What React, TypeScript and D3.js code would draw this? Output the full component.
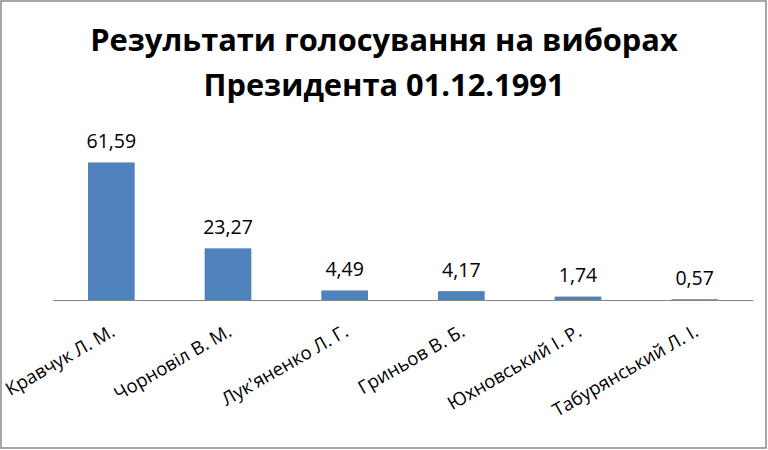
import React from "react";
import * as d3 from "d3";

const categories = [
  "Кравчук Л. М.",
  "Чорновіл В. М.",
  "Лук'яненко Л. Г.",
  "Гриньов В. Б.",
  "Юхновський І. Р.",
  "Табурянський Л. І.",
];
const values = [61.59, 23.27, 4.49, 4.17, 1.74, 0.57];
const valueLabels = ["61,59", "23,27", "4,49", "4,17", "1,74", "0,57"];
const titleLines = ["Результати голосування на виборах", "Президента 01.12.1991"];

const W = 768;
const H = 450;
const axisY = 300.5;
const FONT = "'Open Sans', Lato, sans-serif";

export default function App() {
  const x = d3
    .scaleBand<string>()
    .domain(categories)
    .range([53, 753])
    .paddingInner(0.6)
    .paddingOuter(0.3);
  const y = d3.scaleLinear().domain([0, 70]).range([axisY, 143.6]);

  return (
    <svg
      width={W}
      height={H}
      style={{ position: "absolute", left: 0, top: 0, background: "#fff" }}
    >
      <rect x={1} y={1} width={765} height={447} fill="#fff" stroke="#8a8a8a" strokeWidth={1.5} />
      {titleLines.map((t, i) => (
        <text
          key={i}
          x={384}
          y={51 + i * 45}
          textAnchor="middle"
          fontFamily={FONT}
          fontWeight="bold"
          fontSize={30.8}
          fill="#000"
        >
          {t}
        </text>
      ))}
      {categories.map((c, i) => (
        <rect
          key={c}
          x={x(c)}
          y={y(values[i])}
          width={x.bandwidth()}
          height={axisY - y(values[i])}
          fill="#4F81BD"
        />
      ))}
      <line x1={53} x2={753} y1={axisY} y2={axisY} stroke="#868686" strokeWidth={1} />
      {categories.map((c, i) => (
        <text
          key={"v" + c}
          x={(x(c) as number) + x.bandwidth() / 2}
          y={y(values[i]) - 14.5}
          textAnchor="middle"
          fontFamily={FONT}
          fontSize={19.5}
          fill="#000"
        >
          {valueLabels[i]}
        </text>
      ))}
      {categories.map((c) => {
        const cx = (x(c) as number) + x.bandwidth() / 2;
        const ax = cx + 5;
        const ay = 335;
        return (
          <text
            key={"c" + c}
            x={ax}
            y={ay}
            textAnchor="end"
            transform={`rotate(-30, ${ax}, ${ay})`}
            fontFamily={FONT}
            fontSize={18.5}
            fill="#000"
          >
            {c}
          </text>
        );
      })}
    </svg>
  );
}
